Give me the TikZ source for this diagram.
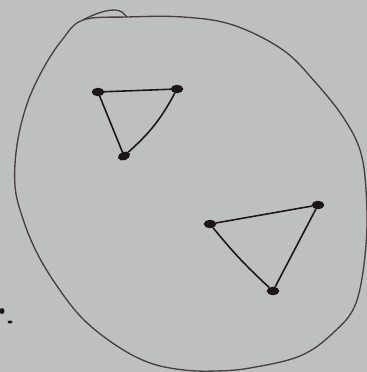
\documentclass[tikz,border=0pt]{standalone}
\usetikzlibrary{shapes.geometric}
\definecolor{paper}{RGB}{190,192,192}
\definecolor{pencil}{RGB}{70,62,64}
\definecolor{ink}{RGB}{28,22,24}
\tikzset{
  vtx/.style={ellipse, draw=ink, fill=ink, inner sep=0pt, minimum width=6.5pt, minimum height=4.2pt, line width=0.6pt},
  edge/.style={draw=ink, line width=0.9pt},
  outline/.style={draw=pencil, line width=0.75pt}
}
\begin{document}
\begin{tikzpicture}[x=0.02cm,y=-0.02cm]
\fill[paper] (0,0) rectangle (367,372);
\useasboundingbox (0,0) rectangle (367,372);

% the big closed curve
\draw[outline] plot[smooth cycle, tension=0.6] coordinates {
  (127,17) (183,17) (233,25) (283,50) (316,83) (343,117) (360,150)
  (366,190) (366,245) (356,303) (333,333) (300,356) (250,368)
  (216,371) (184,370) (150,363) (117,346) (83,319) (57,286)
  (37,253) (23,219) (15,186) (17,145) (27,104) (43,69) (62,40) (83,20)};
\draw[outline] (83,20) .. controls (98,12) and (114,7) .. (122,12) .. controls (125,14) .. (127,17);

% first triangle
\node[vtx] (a1) at (98,92) {};
\node[vtx] (b1) at (177,89) {};
\node[vtx, rotate=20] (c1) at (124,156) {};
\draw[edge] (a1) -- (b1);
\draw[edge] (a1) -- (c1);
\draw[edge] (b1) to[bend left=10] (c1);

% second triangle
\node[vtx] (a2) at (210,224) {};
\node[vtx] (b2) at (318,205) {};
\node[vtx] (c2) at (273,291) {};
\draw[edge] (a2) -- (b2);
\draw[edge] (a2) to[bend right=4] (c2);
\draw[edge] (b2) -- (c2);

% stray marks
\fill[ink] (2,311) ellipse (2.5 and 3);
\fill[ink] (10,322) ellipse (2.5 and 1.5);
\end{tikzpicture}
\end{document}
